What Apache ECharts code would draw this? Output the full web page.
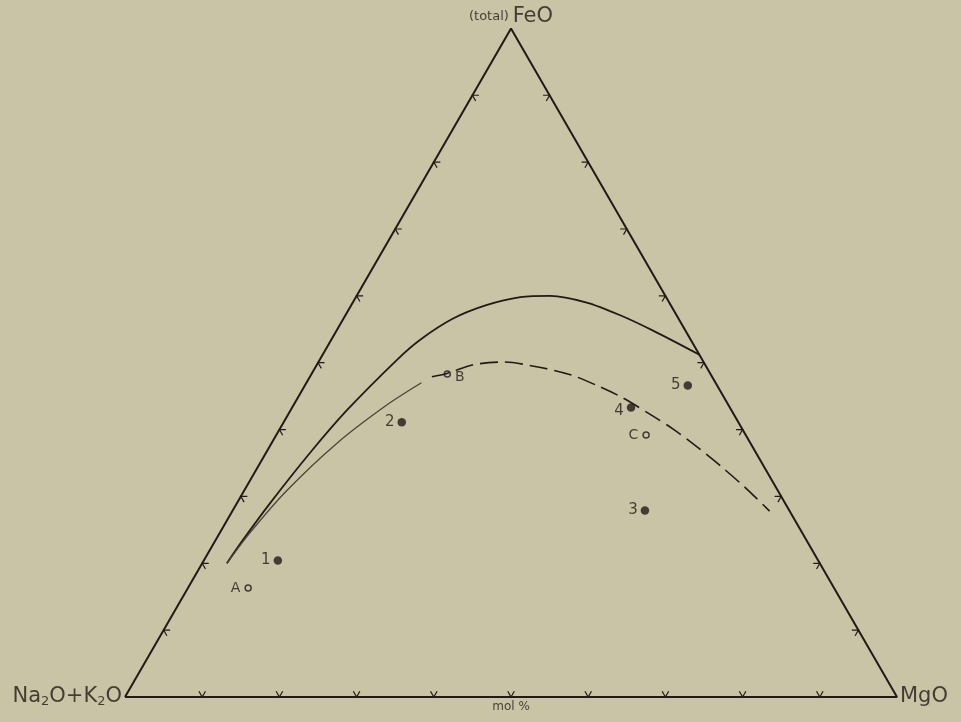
<!DOCTYPE html>
<html><head><meta charset="utf-8">
<script src="https://cdn.jsdelivr.net/npm/echarts@6/dist/echarts.min.js"></script>
<style>html,body{margin:0;padding:0;background:#c9c4a5;} #c{width:961px;height:722px;}</style>
</head><body><div id="c"></div>
<script>
// Ternary system: Na2O+K2O (left), MgO (right), FeO total (top), mol %
const tickValues = [10, 20, 30, 40, 50, 60, 70, 80, 90];

// analysed samples (filled dots)
const pointNames = ['1', '2', '3', '4', '5'];
const pointMgO   = [9.6, 15.3, 53.4, 43.9, 49.6];
const pointFeO   = [20.4, 41.1, 27.9, 43.3, 46.6];

// reference compositions (open circles)
const refNames = ['A', 'B', 'C'];
const refMgO   = [7.8, 17.6, 47.9];
const refFeO   = [16.3, 48.3, 39.2];

// upper solid curve
const upperMgO = [3.2, 3.5, 4.3, 5.7, 7.3, 10.0, 11.5, 14.2, 17.5, 21.3, 25.1, 30.3, 35.6, 41.0, 48.8];
const upperFeO = [20.0, 23.2, 29.0, 36.5, 42.9, 50.4, 53.4, 56.6, 58.6, 59.8, 60.0, 59.0, 57.1, 54.8, 51.2];

// lower curve, solid part
const lowerMgO = [3.2, 3.9, 5.5, 8.5, 12.1, 14.9];
const lowerFeO = [20.0, 24.5, 30.8, 38.0, 43.7, 47.0];

// lower curve, dashed part
const dashMgO = [15.8, 17.5, 20.3, 24.0, 28.6, 33.6, 38.3, 42.2, 47.4, 51.1, 55.4, 59.8, 65.0, 69.6];
const dashFeO = [47.9, 48.4, 49.7, 50.1, 49.4, 48.2, 46.4, 44.7, 42.0, 40.0, 37.4, 34.6, 31.1, 27.8];

const S3 = Math.sqrt(3) / 2;
function toXY(mgo, feo) { return [mgo + feo / 2, feo * S3]; }
function zipXY(m, f) { return m.map((v, i) => toXY(v, f[i])); }

// tick chevrons: arms parallel to the other two sides, pointing inside
const L = 0.85;
const tickSegs = [];
tickValues.forEach(t => {
  tickSegs.push([toXY(t - L, L), toXY(t, 0), toXY(t, L)]);                 // base
  tickSegs.push([toXY(L, t), toXY(0, t), toXY(L, t - L)]);                 // left side
  tickSegs.push([toXY(100 - t - L, t), toXY(100 - t, t), toXY(100 - t, t - L)]); // right side
});

const ink = '#221a16';
const fontFam = '"DejaVu Sans", "Noto Sans", sans-serif';

const chart = echarts.init(document.getElementById('c'));
chart.setOption({
  backgroundColor: '#c9c4a5',
  animation: false,
  grid: { left: 125, right: 64, bottom: 25, top: 28.4, containLabel: false },
  xAxis: { type: 'value', min: 0, max: 100, show: false },
  yAxis: { type: 'value', min: 0, max: 100 * S3, show: false },
  series: [
    {
      type: 'line', symbol: 'none', clip: false,
      data: [toXY(0, 0), toXY(100, 0), toXY(0, 100), toXY(0, 0)],
      lineStyle: { color: ink, width: 2 }
    },
    {
      type: 'custom', clip: false,
      data: tickSegs.map((s, i) => [s[1][0], s[1][1], i]),
      renderItem: function (params, api) {
        const seg = tickSegs[api.value(2)];
        return {
          type: 'polyline',
          shape: { points: seg.map(p => api.coord(p)) },
          style: { stroke: ink, lineWidth: 1.2, fill: null }
        };
      }
    },
    {
      type: 'line', symbol: 'none', smooth: 0.3, clip: false,
      data: zipXY(upperMgO, upperFeO),
      lineStyle: { color: ink, width: 1.8 }
    },
    {
      type: 'line', symbol: 'none', smooth: 0.3, clip: false,
      data: zipXY(lowerMgO, lowerFeO),
      lineStyle: { color: '#4a4438', width: 1.3 }
    },
    {
      type: 'line', symbol: 'none', smooth: 0.3, clip: false,
      data: zipXY(dashMgO, dashFeO),
      lineStyle: { color: ink, width: 1.6, type: [18, 7] }
    },
    {
      type: 'scatter', symbol: 'circle', symbolSize: 8.5, clip: false,
      itemStyle: { color: ink },
      data: pointNames.map((n, i) => {
        const d = { name: n, value: toXY(pointMgO[i], pointFeO[i]) };
        if (n === '4') d.label = { offset: [0, 4] };
        return d;
      }),
      label: {
        show: true, position: 'left', distance: 3, formatter: '{b}',
        color: ink, fontSize: 15, fontFamily: fontFam
      }
    },
    {
      type: 'scatter', symbol: 'circle', symbolSize: 6, clip: false,
      itemStyle: { color: 'rgba(0,0,0,0)', borderColor: ink, borderWidth: 1.5 },
      data: refNames.map((n, i) => {
        const d = { name: n, value: toXY(refMgO[i], refFeO[i]) };
        if (n === 'B') d.label = { position: 'right', offset: [0, 3] };
        return d;
      }),
      label: {
        show: true, position: 'left', distance: 4, formatter: '{b}',
        color: ink, fontSize: 14, fontFamily: fontFam
      }
    },
    {
      type: 'scatter', symbolSize: 0, clip: false, silent: true,
      data: [
        { value: toXY(0, 100),
          label: { position: 'top', distance: 1, formatter: '{s|(total)} {b|FeO}' } },
        { value: toXY(0, 0),
          label: { position: 'left', distance: 3, formatter: '{b|Na}{u|2}{b|O+K}{u|2}{b|O}' } },
        { value: toXY(100, 0),
          label: { position: 'right', distance: 3, formatter: '{b|MgO}' } },
        { value: toXY(50, 0),
          label: { position: 'bottom', distance: 4, formatter: '{m|mol %}' } }
      ],
      label: {
        show: true, color: ink, fontFamily: fontFam,
        rich: {
          b: { fontSize: 21, color: ink, fontFamily: fontFam, lineHeight: 22 },
          s: { fontSize: 13, color: ink, fontFamily: fontFam, lineHeight: 22 },
          u: { fontSize: 13, color: ink, fontFamily: fontFam, lineHeight: 12, verticalAlign: 'bottom' },
          m: { fontSize: 12, color: ink, fontFamily: fontFam }
        }
      }
    }
  ]
});
</script></body></html>
